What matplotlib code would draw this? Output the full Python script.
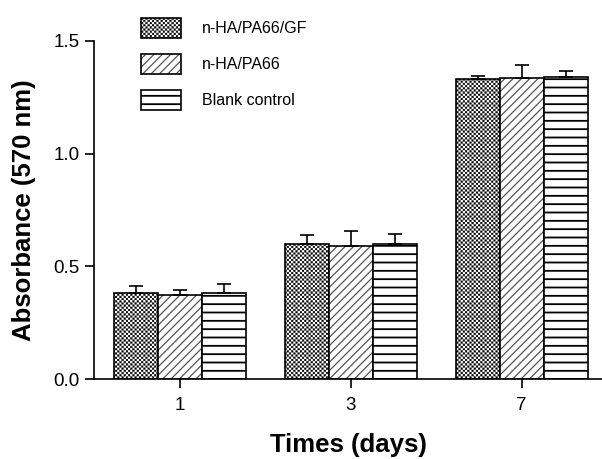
import numpy as np
import matplotlib
matplotlib.use("Agg")
import matplotlib.pyplot as plt
import matplotlib.hatch as mhatch
from matplotlib.path import Path

plt.rcParams['font.family'] = ['Liberation Sans', 'DejaVu Sans']

# data
days = ['1', '3', '7']
labels = ['n-HA/PA66/GF', 'n-HA/PA66', 'Blank control']
gf_vals = [0.382, 0.600, 1.330]
gf_err = [0.031, 0.039, 0.014]
pa_vals = [0.373, 0.591, 1.335]
pa_err = [0.023, 0.066, 0.058]
blank_vals = [0.382, 0.600, 1.339]
blank_err = [0.040, 0.044, 0.027]


# checkerboard hatch, takes the place of the '*' star hatch
class CheckerHatch(mhatch.HatchPatternBase):
    cols = 23

    def __init__(self, hatch, density):
        self.num_rows = 2 * self.cols if hatch.count('*') else 0
        self.num_vertices = self.num_rows * self.cols * 5

    def set_vertices_and_codes(self, vertices, codes):
        step = 1.0 / (2 * self.cols)
        side = step * 0.8
        k = 0
        for r in range(self.num_rows):
            y0 = r * step
            for c in range(self.cols):
                x0 = (2 * c + r % 2) * step
                vertices[k:k + 5] = [(x0, y0), (x0 + side, y0), (x0 + side, y0 + side),
                                     (x0, y0 + side), (x0, y0)]
                codes[k:k + 5] = [Path.MOVETO, Path.LINETO, Path.LINETO,
                                  Path.LINETO, Path.CLOSEPOLY]
                k += 5


mhatch._hatch_types = [CheckerHatch if t is mhatch.Stars else t
                       for t in mhatch._hatch_types]

fig = plt.figure(figsize=(6.02, 4.59), dpi=100)
ax = fig.add_axes([0.156, 0.1736, 0.844, 0.7377])

x = np.arange(len(days))
w = 0.257
hlw = {'gf': 0.25, 'pa': 0.9, 'blank': 1.3}

with plt.rc_context({'hatch.linewidth': hlw['gf']}):
    b1 = ax.bar(x - w, gf_vals, w, facecolor='white', edgecolor='black',
                hatch='*', linewidth=1.2)
with plt.rc_context({'hatch.linewidth': hlw['pa']}):
    b2f = ax.bar(x, pa_vals, w, facecolor='white', edgecolor='#555555',
                 hatch='////', linewidth=0)
b2e = ax.bar(x, pa_vals, w, fill=False, edgecolor='black', linewidth=1.2)
with plt.rc_context({'hatch.linewidth': hlw['blank']}):
    b3 = ax.bar(x + w, blank_vals, w, facecolor='white', edgecolor='black',
                hatch='--', linewidth=1.2)

for xs, v, e in [(x - w, gf_vals, gf_err), (x, pa_vals, pa_err), (x + w, blank_vals, blank_err)]:
    ax.errorbar(xs, v, yerr=[np.zeros(len(e)), e], fmt='none', ecolor='black',
                elinewidth=1.2, capsize=4.7, capthick=1.2)

ax.set_xlim(-0.503, 2.47)
ax.set_ylim(0, 1.5)
ax.set_xticks(x)
ax.set_xticklabels(days)
ax.set_yticks([0, 0.5, 1.0, 1.5])
ax.set_yticklabels(['0.0', '0.5', '1.0', '1.5'])
ax.tick_params(axis='both', labelsize=13.5, length=6.5, width=1.2, direction='out')
ax.tick_params(axis='x', pad=6)
ax.tick_params(axis='y', pad=4)

for s in ['top', 'right']:
    ax.spines[s].set_visible(False)
for s in ['left', 'bottom']:
    ax.spines[s].set_linewidth(1.2)

ax.set_xlabel('Times (days)', fontsize=18.5, fontweight='bold', labelpad=14)
ax.set_ylabel('Absorbance (570 nm)', fontsize=18.5, fontweight='bold', labelpad=12)

leg = fig.legend([b1, (b2f, b2e), b3], labels, loc='upper left',
                 bbox_to_anchor=(141 / 602, 1 - 18 / 459),
                 bbox_transform=fig.transFigure, frameon=False, fontsize=11.5,
                 handlelength=2.5, handleheight=1.55, handletextpad=1.3,
                 labelspacing=1.0, borderpad=0, borderaxespad=0)

# legend patches do not take the hatch width of the bars
lh = leg.legend_handles
for h, key in [(lh[0], 'gf'), (lh[2], 'blank')]:
    if hasattr(h, 'set_hatch_linewidth'):
        h.set_hatch_linewidth(hlw[key])
mid = lh[1] if isinstance(lh[1], (list, tuple)) else [lh[1]]
for h in mid:
    if hasattr(h, 'set_hatch_linewidth'):
        h.set_hatch_linewidth(hlw['pa'])

fig.savefig('out.png', dpi=100)
